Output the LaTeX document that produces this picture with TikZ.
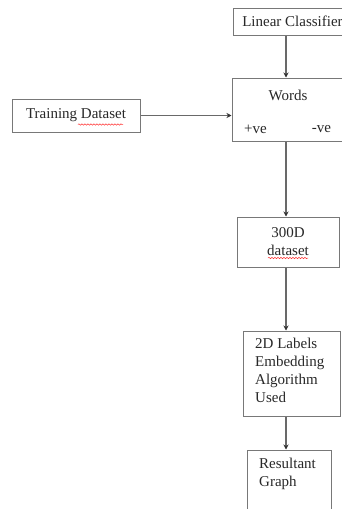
\documentclass[tikz,border=0pt]{standalone}
\usepackage{fontspec}
\setmainfont{Liberation Serif}
\usetikzlibrary{arrows.meta,decorations.pathmorphing}
\definecolor{lineg}{RGB}{105,105,105}
\definecolor{boxg}{RGB}{120,120,120}
\definecolor{txt}{RGB}{40,40,40}
\tikzset{
  box/.style={draw=boxg,line width=1pt,fill=white,rectangle,inner sep=0pt},
  lbl/.style={text=txt,font=\fontsize{15}{18}\selectfont,inner sep=0pt},
  arr/.style={draw=lineg,line width=1.3pt,-{Stealth[length=5pt,width=5pt,color=black!80]}},
  squig/.style={draw=red!80,line width=0.5pt,decorate,decoration={snake,amplitude=0.7pt,segment length=3pt}}
}
\begin{document}
\begin{tikzpicture}[x=1pt,y=-1pt]
\useasboundingbox (0,0) rectangle (342,509);
\clip (0,0) rectangle (342,509);
\fill[white] (0,0) rectangle (342,509);
\coordinate (xl) at (286,0);
% boxes
\node[box,minimum width=119pt,minimum height=27pt] (lc) at (292.5,21.5) {};
\node[lbl] (lct) at (lc.center) {Linear Classifier};
\node[box,minimum width=128pt,minimum height=33pt] (td) at (76,115.5) {};
\node[lbl] (tdt) at (td.center) {Training Dataset};
\node[box,minimum width=112pt,minimum height=63pt] (words) at (288,109.5) {};
\node[lbl] (wt) at (288,95) {Words};
\node[lbl] (pv) at (255.5,129) {+ve};
\node[lbl] (nv) at (321.5,129) {-ve};
\node[box,minimum width=102pt,minimum height=50pt] (d300) at (288,242) {};
\node[lbl,align=center] (d300t) at (d300.center) {300D\\dataset};
\node[box,minimum width=97pt,minimum height=85pt] (d2) at (291.5,373.5) {};
\node[lbl,align=left,anchor=north west] (d2t) at (255,338) {2D Labels\\Embedding\\Algorithm\\Used};
\node[box,minimum width=84pt,minimum height=80pt] (rg) at (289,490) {};
\node[lbl,align=left,anchor=north west] (rgt) at (259,458) {Resultant\\Graph};
% connectors
\draw[arr] (lc.south -| xl) -- (words.north -| xl);
\draw[arr] (td.east) -- (td.east -| words.west);
\draw[arr] (words.south -| xl) -- (d300.north -| xl);
\draw[arr] (d300.south -| xl) -- (d2.north -| xl);
\draw[arr] (d2.south -| xl) -- (rg.north -| xl);
% spell-check squiggles
\draw[squig] (78,124.5) -- (123,124.5);
\draw[squig] (268,258) -- (308,258);
\end{tikzpicture}
\end{document}
